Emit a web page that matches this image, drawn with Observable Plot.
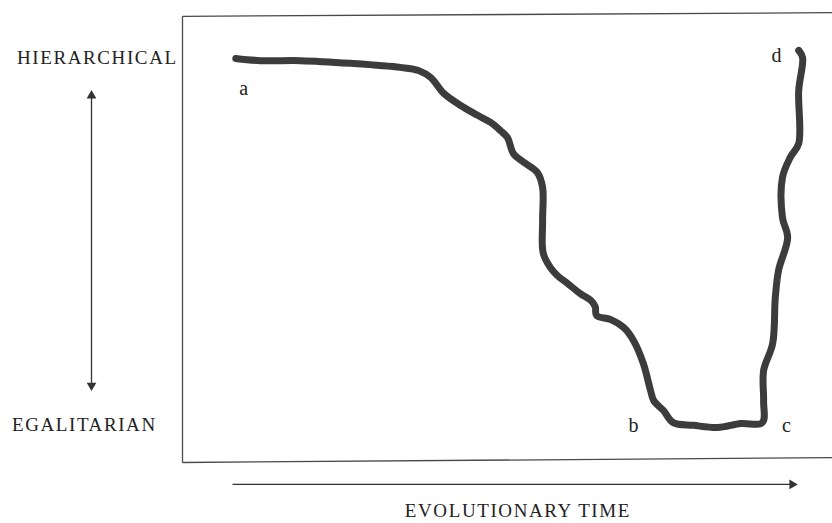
<!DOCTYPE html>
<html>
<head>
<meta charset="utf-8">
<script src="https://cdn.jsdelivr.net/npm/d3@7"></script>
<script src="https://cdn.jsdelivr.net/npm/@observablehq/plot@0.6"></script>
<style>
  html, body { margin: 0; padding: 0; background: #fff; }
  #chart svg { display: block; }
</style>
</head>
<body>
<div id="chart"></div>
<script>
// Evolutionary time (0-100, left to right) and social hierarchy level (0 = egalitarian, 100 = top)
const time  = [8.2, 12.0, 18.2, 25.9, 33.5, 36.3, 38.2, 40.2, 42.8, 45.4, 47.4, 48.9, 50.0, 50.9, 52.5, 54.6, 55.4, 55.4, 55.5, 56.6, 57.7, 59.2, 61.2, 62.8, 63.5, 63.7, 65.9, 67.9, 69.4, 70.9, 72.0, 72.5, 74.0, 75.5, 78.6, 82.3, 85.9, 89.2, 89.4, 89.4, 90.8, 91.2, 91.7, 93.1, 92.3, 92.3, 93.5, 94.8, 94.8, 95.4, 94.8];
const level = [90.2, 89.7, 89.7, 89.1, 88.2, 87.5, 85.9, 82.4, 79.7, 77.5, 75.9, 74.1, 72.5, 69.0, 67.0, 64.7, 61.4, 54.0, 46.7, 43.5, 41.7, 40.0, 37.7, 36.2, 34.8, 32.8, 31.9, 30.1, 27.2, 22.1, 16.1, 13.8, 11.6, 8.9, 8.3, 7.8, 8.7, 8.9, 13.8, 20.5, 26.6, 36.8, 42.9, 50.2, 54.7, 63.6, 68.1, 71.2, 83.0, 90.4, 92.0];

// Stage markers along the curve
const stageNames = ["a", "b", "c", "d"];
const stageTime  = [9.4, 69.4, 92.9, 91.4];
const stageLevel = [83.5, 8.3, 8.3, 90.8];

// Level names (y-axis ends)
const levelNames = ["HIERARCHICAL", "EGALITARIAN"];
const levelValues = [90.2, 8.3];
const levelLabelTime = [-13.1, -15.1];

// Axis titles / arrows
const xTitle = "EVOLUTIONARY TIME";
const xArrowTime = [7.7, 93.8];
const xArrowLevel = -4.9;
const yArrowTime = -14.0;
const yArrowLevel = [17.2, 81.9];
const xTitleTime = 51.6;
const xTitleLevel = -10.9;

// Box (frame) edges as drawn
const frameTop = [99.6, 100.4];
const frameBottom = [0, 1.1];

const curve = time.map((t, i) => ({t, h: level[i]}));
const stages = stageNames.map((n, i) => ({n, t: stageTime[i], h: stageLevel[i]}));
const levels = levelNames.map((n, i) => ({n, t: levelLabelTime[i], h: levelValues[i]}));

const ink = "#3c3c3c";
const serif = "'Liberation Serif', 'DejaVu Serif', serif";

const chart = Plot.plot({
  width: 832,
  height: 523,
  marginLeft: 182,
  marginRight: 0,
  marginTop: 14,
  marginBottom: 61,
  x: {domain: [0, 100], axis: null},
  y: {domain: [0, 100], axis: null},
  style: {fontFamily: serif, background: "#fff"},
  marks: [
    // box
    Plot.link([{x1: 0, y1: frameTop[0], x2: 100, y2: frameTop[1]}], {x1: "x1", y1: "y1", x2: "x2", y2: "y2", stroke: "#4a4a4a", strokeWidth: 1.3}),
    Plot.link([{x1: 0, y1: frameBottom[0], x2: 100, y2: frameBottom[1]}], {x1: "x1", y1: "y1", x2: "x2", y2: "y2", stroke: "#4a4a4a", strokeWidth: 1.3}),
    Plot.link([{x1: 0, y1: frameBottom[0], x2: 0, y2: frameTop[0]}], {x1: "x1", y1: "y1", x2: "x2", y2: "y2", stroke: "#4a4a4a", strokeWidth: 1.3}),
    // the curve
    Plot.line(curve, {x: "t", y: "h", curve: "catmull-rom", stroke: ink, strokeWidth: 7, strokeLinecap: "round", strokeLinejoin: "round"}),
    // stage letters
    Plot.text(stages, {x: "t", y: "h", text: "n", fontSize: 20, fill: "#222"}),
    // level labels
    Plot.text(levels, {x: "t", y: "h", text: "n", fontSize: 19, fill: "#222"}),
    // vertical double arrow
    Plot.link([{x1: yArrowTime, y1: yArrowLevel[0], x2: yArrowTime, y2: yArrowLevel[1]}], {x1: "x1", y1: "y1", x2: "x2", y2: "y2", stroke: "#333", strokeWidth: 1.3}),
    Plot.dot([{t: yArrowTime, h: yArrowLevel[1], r: 0}, {t: yArrowTime, h: yArrowLevel[0], r: 180}], {x: "t", y: "h", rotate: "r", symbol: "triangle", r: 3.6, fill: "#333", stroke: "none"}),
    // horizontal arrow
    Plot.link([{x1: xArrowTime[0], y1: xArrowLevel, x2: xArrowTime[1], y2: xArrowLevel}], {x1: "x1", y1: "y1", x2: "x2", y2: "y2", stroke: "#333", strokeWidth: 1.3}),
    Plot.dot([{t: xArrowTime[1], h: xArrowLevel}], {x: "t", y: "h", rotate: 90, symbol: "triangle", r: 3.6, fill: "#333", stroke: "none"}),
    // x title
    Plot.text([xTitle], {x: xTitleTime, y: xTitleLevel, text: d => d, fontSize: 19, fill: "#222"})
  ]
});
// widen the spaced capitals like the printed original
d3.select(chart).selectAll("text").each(function () {
  const s = this.textContent;
  if (levelNames.includes(s) || s === xTitle) this.setAttribute("letter-spacing", "1.6");
});
document.getElementById("chart").appendChild(chart);
</script>
</body>
</html>
